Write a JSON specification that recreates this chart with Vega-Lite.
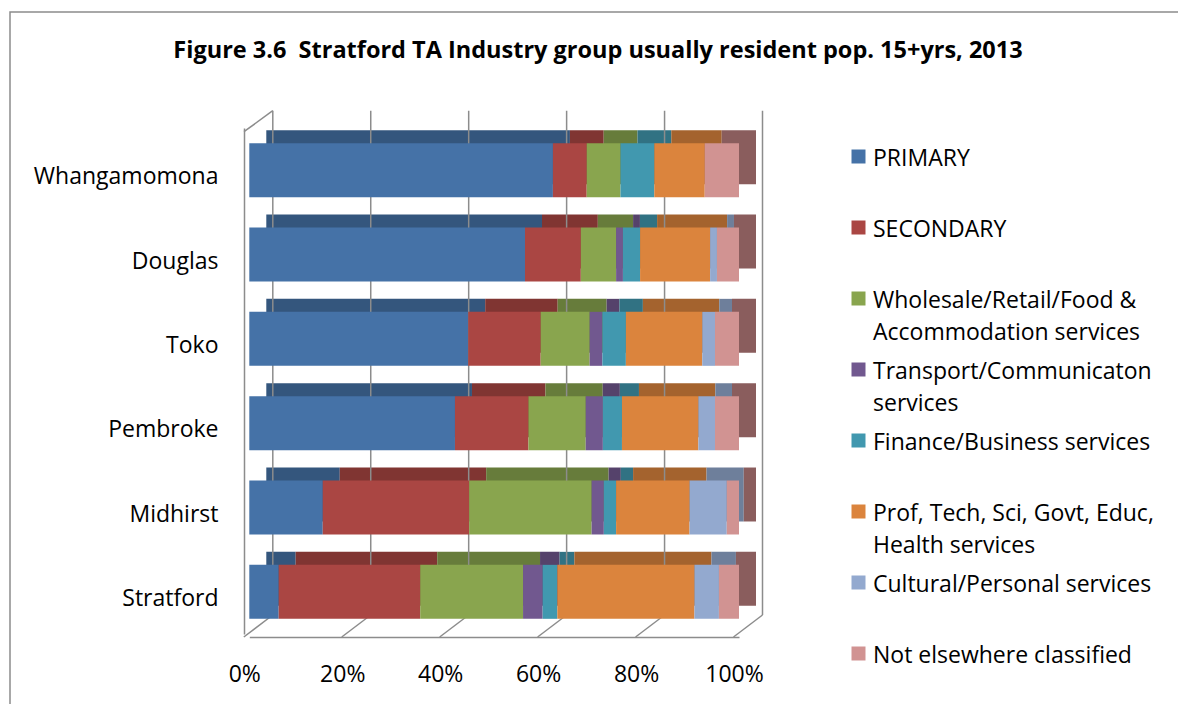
{
  "$schema": "https://vega.github.io/schema/vega-lite/v6.json",
  "autosize": "none",
  "padding": {"left": 10, "top": 12, "right": 0, "bottom": 0},
  "width": 1200,
  "height": 700,
  "background": "white",
  "config": {
    "view": {"stroke": "#8c8c8c", "strokeWidth": 1.5},
    "font": "Open Sans"
  },
  "title": {
    "text": "Figure 3.6\u00a0 Stratford TA Industry group usually resident pop. 15+yrs, 2013",
    "font": "Open Sans",
    "fontSize": 23.5,
    "fontWeight": "bold",
    "color": "black",
    "anchor": "middle",
    "frame": "group",
    "dx": -12,
    "offset": -50
  },
  "datasets": {
    "grid": [{"v": 0}, {"v": 0.2}, {"v": 0.4}, {"v": 0.6}, {"v": 0.8}, {"v": 1}],
    "cats": [
      {"ind": "PRIMARY", "k": 1},
      {"ind": "SECONDARY", "k": 2},
      {"ind": "Wholesale/Retail/Food & Accommodation services", "k": 3},
      {"ind": "Transport/Communicaton services", "k": 4},
      {"ind": "Finance/Business services", "k": 5},
      {"ind": "Prof, Tech, Sci, Govt, Educ, Health services", "k": 6},
      {"ind": "Cultural/Personal services", "k": 7},
      {"ind": "Not elsewhere classified", "k": 8}
    ],
    "industry": [
      {"place": "Whangamomona", "ind": "PRIMARY", "pct": 62.0},
      {"place": "Whangamomona", "ind": "SECONDARY", "pct": 6.9},
      {"place": "Whangamomona", "ind": "Wholesale/Retail/Food & Accommodation services", "pct": 6.9},
      {"place": "Whangamomona", "ind": "Transport/Communicaton services", "pct": 0},
      {"place": "Whangamomona", "ind": "Finance/Business services", "pct": 6.9},
      {"place": "Whangamomona", "ind": "Prof, Tech, Sci, Govt, Educ, Health services", "pct": 10.3},
      {"place": "Whangamomona", "ind": "Cultural/Personal services", "pct": 0},
      {"place": "Whangamomona", "ind": "Not elsewhere classified", "pct": 7.0},
      {"place": "Douglas", "ind": "PRIMARY", "pct": 56.3},
      {"place": "Douglas", "ind": "SECONDARY", "pct": 11.4},
      {"place": "Douglas", "ind": "Wholesale/Retail/Food & Accommodation services", "pct": 7.2},
      {"place": "Douglas", "ind": "Transport/Communicaton services", "pct": 1.4},
      {"place": "Douglas", "ind": "Finance/Business services", "pct": 3.5},
      {"place": "Douglas", "ind": "Prof, Tech, Sci, Govt, Educ, Health services", "pct": 14.3},
      {"place": "Douglas", "ind": "Cultural/Personal services", "pct": 1.4},
      {"place": "Douglas", "ind": "Not elsewhere classified", "pct": 4.5},
      {"place": "Toko", "ind": "PRIMARY", "pct": 44.7},
      {"place": "Toko", "ind": "SECONDARY", "pct": 14.8},
      {"place": "Toko", "ind": "Wholesale/Retail/Food & Accommodation services", "pct": 10.0},
      {"place": "Toko", "ind": "Transport/Communicaton services", "pct": 2.6},
      {"place": "Toko", "ind": "Finance/Business services", "pct": 4.8},
      {"place": "Toko", "ind": "Prof, Tech, Sci, Govt, Educ, Health services", "pct": 15.6},
      {"place": "Toko", "ind": "Cultural/Personal services", "pct": 2.6},
      {"place": "Toko", "ind": "Not elsewhere classified", "pct": 4.9},
      {"place": "Pembroke", "ind": "PRIMARY", "pct": 42.0},
      {"place": "Pembroke", "ind": "SECONDARY", "pct": 15.0},
      {"place": "Pembroke", "ind": "Wholesale/Retail/Food & Accommodation services", "pct": 11.7},
      {"place": "Pembroke", "ind": "Transport/Communicaton services", "pct": 3.5},
      {"place": "Pembroke", "ind": "Finance/Business services", "pct": 3.9},
      {"place": "Pembroke", "ind": "Prof, Tech, Sci, Govt, Educ, Health services", "pct": 15.6},
      {"place": "Pembroke", "ind": "Cultural/Personal services", "pct": 3.4},
      {"place": "Pembroke", "ind": "Not elsewhere classified", "pct": 4.9},
      {"place": "Midhirst", "ind": "PRIMARY", "pct": 15.0},
      {"place": "Midhirst", "ind": "SECONDARY", "pct": 29.9},
      {"place": "Midhirst", "ind": "Wholesale/Retail/Food & Accommodation services", "pct": 25.0},
      {"place": "Midhirst", "ind": "Transport/Communicaton services", "pct": 2.5},
      {"place": "Midhirst", "ind": "Finance/Business services", "pct": 2.5},
      {"place": "Midhirst", "ind": "Prof, Tech, Sci, Govt, Educ, Health services", "pct": 15.0},
      {"place": "Midhirst", "ind": "Cultural/Personal services", "pct": 7.6},
      {"place": "Midhirst", "ind": "Not elsewhere classified", "pct": 2.5},
      {"place": "Stratford", "ind": "PRIMARY", "pct": 6.0},
      {"place": "Stratford", "ind": "SECONDARY", "pct": 28.9},
      {"place": "Stratford", "ind": "Wholesale/Retail/Food & Accommodation services", "pct": 21.0},
      {"place": "Stratford", "ind": "Transport/Communicaton services", "pct": 4.0},
      {"place": "Stratford", "ind": "Finance/Business services", "pct": 3.0},
      {"place": "Stratford", "ind": "Prof, Tech, Sci, Govt, Educ, Health services", "pct": 28.0},
      {"place": "Stratford", "ind": "Cultural/Personal services", "pct": 5.0},
      {"place": "Stratford", "ind": "Not elsewhere classified", "pct": 4.1}
    ]
  },
  "layer": [
    {
      "data": {"name": "grid"},
      "mark": {"type": "rule", "xOffset": -5.5, "x2Offset": 23.5, "color": "#8c8c8c", "strokeWidth": 1.5},
      "encoding": {
        "x": {"field": "v", "type": "quantitative", "scale": {"domain": [0, 1], "range": [239.3, 729]}},
        "x2": {"field": "v"},
        "y": {"datum": 0, "type": "quantitative", "scale": {"domain": [0, 1], "range": [625, 603]}, "axis": null},
        "y2": {"datum": 1}
      }
    },
    {
      "data": {"values": [{"v": 0}]},
      "mark": {"type": "rule", "xOffset": -5.3, "x2Offset": 23.5, "color": "#8c8c8c", "strokeWidth": 1.5},
      "encoding": {
        "x": {"field": "v", "type": "quantitative", "scale": {"domain": [0, 1], "range": [239.3, 729]}},
        "x2": {"field": "v"},
        "y": {"datum": 0, "type": "quantitative", "scale": {"domain": [0, 1], "range": [119.7, 98.7]}, "axis": null},
        "y2": {"datum": 1}
      }
    },
    {
      "data": {"name": "industry"},
      "transform": [{"lookup": "ind", "from": {"data": {"name": "cats"}, "key": "ind", "fields": ["k"]}}],
      "mark": {"type": "bar", "xOffset": 17, "x2Offset": 17, "yOffset": -13},
      "encoding": {
        "y": {"field": "place", "type": "nominal", "axis": null,
          "scale": {"domain": ["Whangamomona", "Douglas", "Toko", "Pembroke", "Midhirst", "Stratford"], "range": [116, 622], "paddingInner": 0.36, "paddingOuter": 0.18}},
        "x": {"field": "pct", "type": "quantitative", "stack": "normalize",
          "scale": {"domain": [0, 1], "range": [239.3, 729]},
          "axis": {"values": [0, 0.2, 0.4, 0.6, 0.8, 1], "format": ".0%", "grid": false, "ticks": false, "domain": true, "domainColor": "#8c8c8c", "domainWidth": 1.5, "labelFontSize": 23, "labelFont": "Open Sans", "labelColor": "black", "labelPadding": 26, "labelOffset": -5, "labelFlush": false, "labelBaseline": "top", "offset": -75, "title": null}},
        "order": {"field": "k", "type": "quantitative", "sort": "ascending"},
        "color": {"field": "ind", "type": "nominal", "legend": null,
          "scale": {"domain": ["PRIMARY", "SECONDARY", "Wholesale/Retail/Food & Accommodation services", "Transport/Communicaton services", "Finance/Business services", "Prof, Tech, Sci, Govt, Educ, Health services", "Cultural/Personal services", "Not elsewhere classified"],
            "range": ["#34567D", "#803532", "#677C3B", "#55426B", "#317283", "#A4632E", "#6E7F9B", "#8A5D5D"]}}
      }
    },
    {
      "data": {"name": "grid"},
      "mark": {"type": "rule", "xOffset": 23.5, "color": "#8c8c8c", "strokeWidth": 1.5},
      "encoding": {
        "x": {"field": "v", "type": "quantitative", "scale": {"domain": [0, 1], "range": [239.3, 729]}},
        "y": {"datum": 0, "type": "quantitative", "scale": {"domain": [0, 1], "range": [98.7, 603]}, "axis": null},
        "y2": {"datum": 1}
      }
    },
    {
      "data": {"name": "industry"},
      "transform": [{"lookup": "ind", "from": {"data": {"name": "cats"}, "key": "ind", "fields": ["k"]}}],
      "mark": {"type": "bar"},
      "encoding": {
        "y": {"field": "place", "type": "nominal",
          "scale": {"domain": ["Whangamomona", "Douglas", "Toko", "Pembroke", "Midhirst", "Stratford"], "range": [116, 622], "paddingInner": 0.36, "paddingOuter": 0.18},
          "axis": {"ticks": false, "domain": true, "domainColor": "#8c8c8c", "domainWidth": 1.5, "labelFontSize": 23, "labelFont": "Open Sans", "labelColor": "black", "labelPadding": 26, "labelOffset": 7, "offset": -234, "title": null, "labelLimit": 300}},
        "x": {"field": "pct", "type": "quantitative", "stack": "normalize",
          "scale": {"domain": [0, 1], "range": [239.3, 729]},
          "axis": {"values": [0, 0.2, 0.4, 0.6, 0.8, 1], "format": ".0%", "grid": false, "ticks": false, "domain": true, "domainColor": "#8c8c8c", "domainWidth": 1.5, "labelFontSize": 23, "labelFont": "Open Sans", "labelColor": "black", "labelPadding": 26, "labelOffset": -5, "labelFlush": false, "labelBaseline": "top", "offset": -75, "title": null}},
        "order": {"field": "k", "type": "quantitative", "sort": "ascending"},
        "color": {"field": "ind", "type": "nominal",
          "scale": {"domain": ["PRIMARY", "SECONDARY", "Wholesale/Retail/Food & Accommodation services", "Transport/Communicaton services", "Finance/Business services", "Prof, Tech, Sci, Govt, Educ, Health services", "Cultural/Personal services", "Not elsewhere classified"],
            "range": ["#4572A7", "#AA4643", "#89A54E", "#71588F", "#4198AF", "#DB843D", "#93A9CF", "#D19392"]},
          "legend": {
            "orient": "none", "legendX": 837, "legendY": 133, "title": null,
            "symbolType": "square", "symbolSize": 196, "symbolStrokeWidth": 0,
            "labelFontSize": 23, "labelFont": "Open Sans", "labelColor": "black",
            "labelOffset": 3, "labelLimit": 400, "labelBaseline": "top",
            "gridAlign": "all", "rowPadding": 13,
            "labelExpr": "datum.label == 'Wholesale/Retail/Food & Accommodation services' ? ['Wholesale/Retail/Food &', 'Accommodation services'] : datum.label == 'Transport/Communicaton services' ? ['Transport/Communicaton', 'services'] : datum.label == 'Prof, Tech, Sci, Govt, Educ, Health services' ? ['Prof, Tech, Sci, Govt, Educ,', 'Health services'] : datum.label",
            "encode": {"labels": {"update": {"lineHeight": {"value": 32}, "dy": {"value": -9}}}}
          }}
      }
    }
  ],
  "resolve": {"scale": {"y": "independent", "color": "independent"}}
}
